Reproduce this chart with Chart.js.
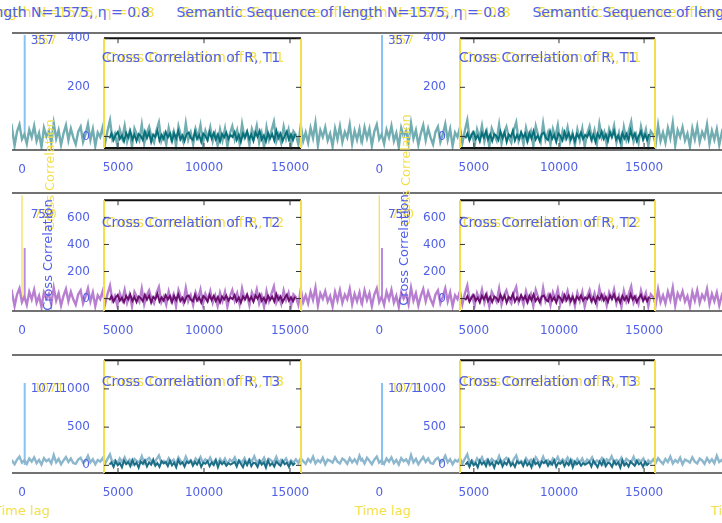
<!DOCTYPE html>
<html>
<head>
<meta charset="utf-8">
<script src="https://cdn.jsdelivr.net/npm/chart.js@4.4.0/dist/chart.umd.min.js"></script>
<style>
  body { margin:0; background:#fff; width:722px; height:523px; overflow:hidden; position:relative; font-family:"DejaVu Sans", sans-serif; }
  canvas { position:absolute; }
  .t { position:absolute; white-space:nowrap; transform:translate(-50%,-50%); font-size:13px; line-height:1; }
  .rot { transform:translate(-50%,-50%) rotate(-90deg); }
</style>
</head>
<body>
<script>
// DATA

const titleText = "Semantic Sequence of length N=1575, η = 0.8";
const panelTitles = ["Cross Correlation of R, T1", "Cross Correlation of R, T2", "Cross Correlation of R, T3"];
const xLabel = "Time lag";
const yLabel = "Cross Correlation";

const outerXTicks = [0];
const innerXTicks = [5000, 10000, 15000];
const yTicksT1 = [0, 200, 400];
const yTicksT2 = [0, 200, 400, 600];
const yTicksT3 = [0, 500, 1000];

const peakLag = 150;
const peakT1 = 357;
const peakT2 = 365;
const peakT2b = 750;
const peakT3 = 1071;

const backLagStart = -1100, backLagEnd = 19300;
const frontLagStart = 4500, frontLagEnd = 15300;

const backT1 = [12,-20,30,-8,25,-35,15,40,-12,5,-28,22,-5,35,-18,10,-40,28,-2,18,-25,45,-10,20,-32,8,38,-15,26,-6,
  -30,14,32,-22,6,42,-14,24,-36,12,-4,30,-26,18,55,-12,8,-34,22,-8,36,-20,14,-38,26,4,-16,40,-28,10,
  32,-6,-24,20,48,-18,6,-30,28,-10,16,-36,34,2,-22,44,-14,12,-30,24,-4,38,-26,18,-8,30,-20,10,-34,22,
  -16,26,-38,8,34,-12,20,-28,42,-6,14,-32,24,-2,36,-24,10,-40,30,-14,18,50,-20,6,-26,32,-10,22,-36,16,
  4,-30,38,-18,12,-24,28,-8,46,-34,20,-4,30,-16,8,-38,26,-12,34,-22,14,-6,40,-28,18,-14,24,-32,10,-20];
const frontT1 = [-8,12,-15,6,18,-10,4,-20,14,-4,22,-12,8,-18,10,2,-14,20,-6,16,-22,8,-2,24,-16,6,-10,18,-4,12,
  -20,14,-8,22,-12,4,-18,10,16,-6,-14,20,-10,6,-22,12,2,-16,18,-8,14,-12,8,-20,10,-4,16,-10,6,-2,
  18,-14,6,-22,12,-4,20,-10,8,-18,16,-2,22,-12,4,-20,14,-8,10,-16,24,-6,12,-18,2,20,-12,8,-14,10];

const backT2 = [20,-40,55,-15,35,-60,25,70,-30,10,-50,45,-10,60,-35,15,-65,40,-5,30,-45,75,-20,35,-55,15,65,-25,45,-10,
  -50,25,55,-40,10,70,-25,40,-60,20,-8,50,-45,30,90,-20,15,-55,35,-15,60,-35,25,-62,45,8,-28,68,-48,18,
  55,-10,-40,35,80,-30,12,-50,48,-18,28,-60,58,5,-38,72,-24,20,-52,40,-8,62,-44,30,-14,50,-34,18,-58,38,
  -22,44,-64,12,58,-20,34,-46,70,-10,24,-54,40,-4,62,-40,16,-66,50,-24,30,84,-34,10,-44,54,-16,36,-60,26,
  6,-50,64,-30,20,-40,46,-14,76,-56,34,-6,50,-26,14,-62,44,-20,56,-36,24,-10,66,-46,30,-24,40,-54,16,-34];
const frontT2 = [-12,18,-22,8,26,-15,6,-28,20,-6,30,-18,12,-26,15,4,-20,28,-8,22,-30,12,-4,34,-22,8,-15,25,-6,18,
  -28,20,-12,30,-18,6,-26,15,22,-8,-20,28,-15,8,-30,18,4,-22,25,-12,20,-18,12,-28,15,-6,22,-15,8,-4,
  26,-20,8,-30,16,-6,28,-14,12,-24,22,-2,30,-16,6,-28,20,-10,14,-22,32,-8,16,-26,4,28,-16,10,-20,14];

const backT3 = [40,80,20,95,55,10,70,110,30,60,15,85,45,100,25,65,5,90,50,75,20,130,35,80,10,60,105,40,85,25,
  15,70,95,30,55,120,35,75,10,65,45,90,20,80,140,30,60,15,85,40,100,25,70,10,80,50,35,115,20,65,
  95,45,15,75,125,30,55,20,90,40,70,10,100,50,25,110,35,65,15,85,45,105,30,75,40,95,20,60,10,80,
  30,85,15,70,45,100,20,60,35,90,10,75,50,115,25,65,40,95,15,80,55,35,105,20,70,45,85,10,60,30,
  75,25,90,50,15,80,40,110,20,65,35,95,10,70,55,30,100,45,20,85,60,15,90,35,75,25,120,40,65,20];
const frontT3 = [10,40,-20,55,0,30,-25,60,15,45,-10,70,5,35,-30,50,20,65,-15,40,10,75,-5,30,-20,55,25,45,-10,60,
  0,35,-25,70,15,40,-15,50,30,60,-5,45,10,65,-20,35,20,55,-10,40,5,70,-25,50,15,45,-5,30,10,25,
  45,-15,60,20,-25,50,5,70,-10,35,25,-20,55,10,40,-30,65,0,30,-15,50,20,-5,60,15,35,-20,45,5,30];

// LAYOUT / STYLE

const BLUE = "#4f5fe8";
const YELLOW = "#f3df4a";

const rows = [
  { back: backT1, front: frontT1, peak: peakT1, label: "357", labelAt: peakT1, ticks: yTicksT1, title: panelTitles[0],
    top: 33, bottom: 150, boxTop: 33, boxBottom: 148, outerMin: -50, outerMax: 364, innerMin: -47, innerMax: 400,
    backColor: "#72adb2", frontColor: "#07707a", spikeColor: "#86c2f2", titleY: 57 },
  { back: backT2, front: frontT2, peak: peakT2, peak2: peakT2b, label: "750", labelAt: 650, ticks: yTicksT2, title: panelTitles[1],
    top: 193, bottom: 311, boxTop: 195, boxBottom: 311, outerMin: -95, outerMax: 766, innerMin: -92, innerMax: 727,
    backColor: "#b87fd0", frontColor: "#6a0f6e", spikeColor: "#b98ae0", titleY: 222 },
  { back: backT3, front: frontT3, peak: peakT3, label: "1071", labelAt: peakT3, ticks: yTicksT3, title: panelTitles[2],
    top: 355, bottom: 473, boxTop: 355, boxBottom: 473, outerMin: -104, outerMax: 1436, innerMin: -100, innerMax: 1375,
    backColor: "#8db7cd", frontColor: "#1c6e86", spikeColor: "#86c2f2", titleY: 381 }
];

const cols = [
  { left: 12, right: 361, min: -560, max: 18974, boxLeft: 104, boxRight: 301, titleX: 191, yLabX: 47, yLabY: 255 },
  { left: 361, right: 722, min: -1024, max: 19180, boxLeft: 460, boxRight: 655, titleX: 548, yLabX: 403, yLabY: 250 }
];

function toPoints(start, end, vals) {
  const step = (end - start) / (vals.length - 1);
  return vals.map((v, i) => ({ x: start + i * step, y: v }));
}

// frame lines, inward ticks and peak label
const framePlugin = {
  id: "frame",
  afterDatasetsDraw(chart, args, o) {
    const ctx = chart.ctx, a = chart.chartArea;
    ctx.save();
    if (o.h) {
      ctx.strokeStyle = o.h; ctx.lineWidth = o.hw;
      ctx.beginPath();
      ctx.moveTo(a.left, a.top); ctx.lineTo(a.right, a.top);
      ctx.moveTo(a.left, a.bottom); ctx.lineTo(a.right, a.bottom);
      ctx.stroke();
    }
    if (o.v) {
      ctx.strokeStyle = o.v; ctx.lineWidth = 2;
      ctx.beginPath();
      ctx.moveTo(a.left, a.top); ctx.lineTo(a.left, a.bottom);
      ctx.moveTo(a.right, a.top); ctx.lineTo(a.right, a.bottom);
      ctx.stroke();
    }
    if (o.ticks) {
      const xs = chart.scales.x, ys = chart.scales.y;
      ctx.strokeStyle = "#333"; ctx.lineWidth = 1;
      ctx.beginPath();
      xs.ticks.forEach(t => {
        const px = xs.getPixelForValue(t.value);
        ctx.moveTo(px, a.top); ctx.lineTo(px, a.top + 5);
        ctx.moveTo(px, a.bottom); ctx.lineTo(px, a.bottom - 5);
      });
      ys.ticks.forEach(t => {
        const py = ys.getPixelForValue(t.value);
        ctx.moveTo(a.left, py); ctx.lineTo(a.left + 5, py);
        ctx.moveTo(a.right, py); ctx.lineTo(a.right - 5, py);
      });
      ctx.stroke();
    }
    if (o.label) {
      const px = chart.scales.x.getPixelForValue(o.labelX) + 6;
      const py = chart.scales.y.getPixelForValue(o.labelY) + 6;
      ctx.font = "12px 'DejaVu Sans'";
      ctx.textBaseline = "middle";
      ctx.fillStyle = YELLOW; ctx.fillText(o.label, px + 3, py);
      ctx.fillStyle = BLUE; ctx.fillText(o.label, px, py);
    }
    ctx.restore();
  }
};

function makeCanvas(left, top, w, h) {
  const c = document.createElement("canvas");
  c.width = w; c.height = h;
  c.style.left = left + "px"; c.style.top = top + "px";
  c.style.width = w + "px"; c.style.height = h + "px";
  document.body.appendChild(c);
  return c;
}

function addText(txt, x, y, color, size, cls) {
  const d = document.createElement("div");
  d.className = "t" + (cls ? " " + cls : "");
  d.textContent = txt;
  d.style.left = x + "px"; d.style.top = y + "px";
  d.style.color = color; d.style.fontSize = size + "px";
  document.body.appendChild(d);
}

const PAD = 3, XH = 24, YW = 44, PT = 8, PR = 24;
const tickFont = { size: 12, family: "DejaVu Sans" };
const plain = v => String(v);

// background (full-column) charts
rows.forEach(row => {
  cols.forEach(col => {
    const c = makeCanvas(col.left, row.top - PAD, col.right - col.left, row.bottom - row.top + PAD + XH);
    const sets = [
      { data: toPoints(backLagStart, backLagEnd, row.back), borderColor: row.backColor, borderWidth: 2.4 }
    ];
    if (row.peak2) sets.push({ data: [{ x: peakLag - 150, y: 0 }, { x: peakLag - 150, y: row.peak2 }], borderColor: YELLOW, borderWidth: 1.2 });
    sets.push({ data: [{ x: peakLag, y: 0 }, { x: peakLag, y: row.peak }], borderColor: row.spikeColor, borderWidth: 2 });
    new Chart(c, {
      type: "line",
      data: { datasets: sets.map(s => Object.assign({ pointRadius: 0, tension: 0 }, s)) },
      options: {
        responsive: false, animation: false, devicePixelRatio: 1,
        layout: { padding: { top: PAD, left: 0, right: 0, bottom: 0 } },
        plugins: {
          legend: { display: false }, tooltip: { enabled: false },
          frame: { h: "#444", hw: 1.5, label: row.label, labelX: peakLag, labelY: row.labelAt }
        },
        scales: {
          x: {
            type: "linear", min: col.min, max: col.max,
            grid: { display: false }, border: { display: false },
            afterBuildTicks: a => { a.ticks = outerXTicks.map(v => ({ value: v })); },
            afterFit: a => { a.height = XH; },
            ticks: { color: BLUE, font: tickFont, padding: 5, maxRotation: 0, autoSkip: false, callback: plain }
          },
          y: { display: false, min: row.outerMin, max: row.outerMax }
        }
      },
      plugins: [framePlugin]
    });
  });
});

// inner axes boxes
rows.forEach(row => {
  cols.forEach(col => {
    const bw = col.boxRight - col.boxLeft, bh = row.boxBottom - row.boxTop;
    const c = makeCanvas(col.boxLeft - YW, row.boxTop - PT, YW + bw + PR, PT + bh + XH);
    new Chart(c, {
      type: "line",
      data: { datasets: [
        { data: toPoints(frontLagStart, frontLagEnd, row.front), borderColor: row.frontColor, borderWidth: 2, pointRadius: 0, tension: 0 }
      ] },
      options: {
        responsive: false, animation: false, devicePixelRatio: 1,
        layout: { padding: { top: PT, left: 0, right: PR, bottom: 0 } },
        plugins: {
          legend: { display: false }, tooltip: { enabled: false },
          frame: { h: "#111", hw: 2, v: YELLOW, ticks: true }
        },
        scales: {
          x: {
            type: "linear", min: 4186, max: 15640,
            grid: { display: false }, border: { display: false },
            afterBuildTicks: a => { a.ticks = innerXTicks.map(v => ({ value: v })); },
            afterFit: a => { a.height = XH; },
            ticks: { color: BLUE, font: tickFont, padding: 5, maxRotation: 0, autoSkip: false, callback: plain }
          },
          y: {
            min: row.innerMin, max: row.innerMax,
            grid: { display: false }, border: { display: false },
            afterBuildTicks: a => { a.ticks = row.ticks.map(v => ({ value: v })); },
            afterFit: a => { a.width = YW; },
            ticks: { color: BLUE, font: tickFont, padding: 6, callback: plain }
          }
        }
      },
      plugins: [framePlugin]
    });
    addText(row.title, col.titleX + 4, row.titleY, YELLOW, 14);
    addText(row.title, col.titleX, row.titleY, BLUE, 14);
  });
});

// overall title, axis labels
[-15, 341, 697].forEach(x => {
  addText(titleText, x + 5, 12, YELLOW, 14);
  addText(titleText, x, 12, BLUE, 14);
});
[22, 383, 739].forEach(x => {
  addText(xLabel, x, 510, YELLOW, 13);
});
cols.forEach(col => {
  addText(yLabel, col.yLabX + 2, col.yLabY - 80, YELLOW, 13, "rot");
  addText(yLabel, col.yLabX, col.yLabY, BLUE, 13, "rot");
});
</script>
</body>
</html>
